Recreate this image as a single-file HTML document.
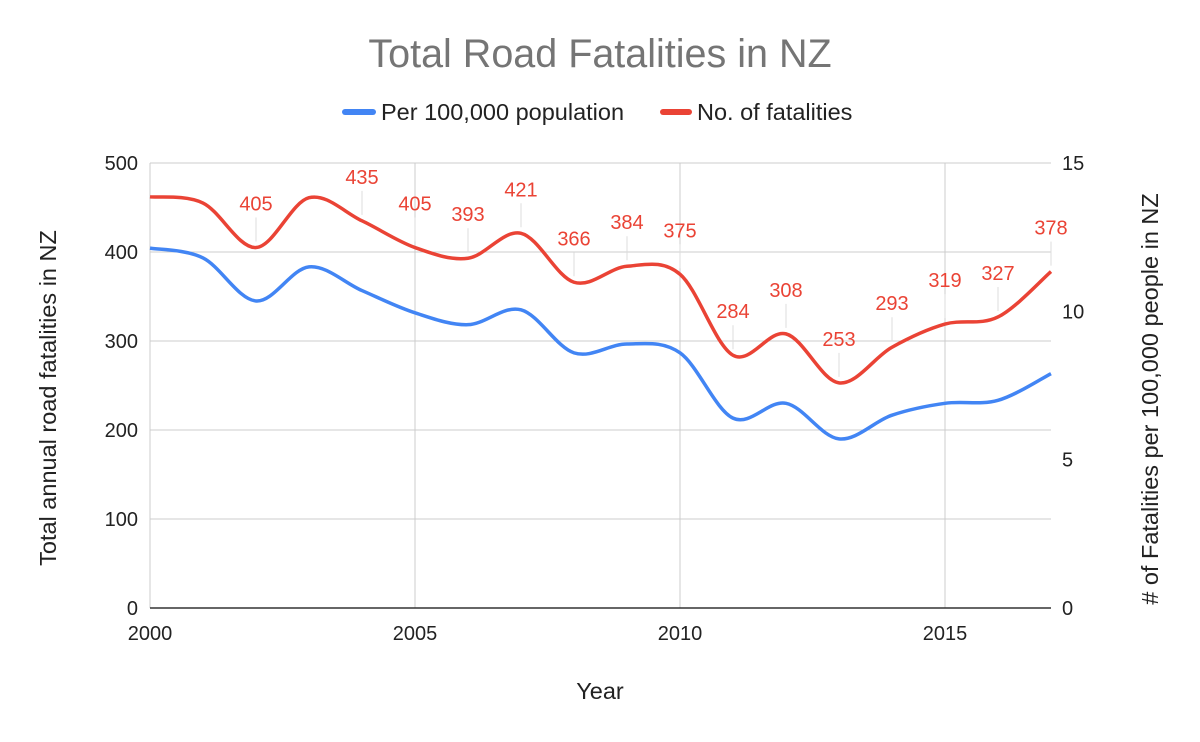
<!DOCTYPE html>
<html><head><meta charset="utf-8"><style>
body{margin:0;background:#fff;font-family:"Liberation Sans",Arial,sans-serif}
svg{display:block}
</style></head><body>
<svg id="chart" width="1200" height="742" viewBox="0 0 1200 742">
<rect width="1200" height="742" fill="#fff"/>
<text x="600" y="67" text-anchor="middle" font-size="39.5" fill="#757575">Total Road Fatalities in NZ</text>
<g>
<g><line x1="345" y1="112" x2="373" y2="112" stroke="#4285f4" stroke-width="6" stroke-linecap="round"/><text x="381" y="120" font-size="23.5" fill="#222">Per 100,000 population</text></g>
<g><line x1="663" y1="112" x2="689" y2="112" stroke="#ea4335" stroke-width="6" stroke-linecap="round"/><text x="697" y="120" font-size="23.5" fill="#222">No. of fatalities</text></g>
</g>
<g id="grid"></g><g id="axes"></g><g id="series"></g><g id="labels"></g>
<text x="600" y="699" text-anchor="middle" font-size="23.5" fill="#222">Year</text>
<text transform="translate(56,398) rotate(-90)" text-anchor="middle" font-size="23.5" fill="#222">Total annual road fatalities in NZ</text>
<text transform="translate(1158,399) rotate(-90)" text-anchor="middle" font-size="23.5" fill="#222"># of Fatalities per 100,000 people in NZ</text>
</svg>
<script>
const years=[2000,2001,2002,2003,2004,2005,2006,2007,2008,2009,2010,2011,2012,2013,2014,2015,2016,2017];
const fatalities=[462,455,405,461,435,405,393,421,366,384,375,284,308,253,293,319,327,378];
const per100k=[12.13,11.8,10.35,11.5,10.7,9.95,9.55,10.05,8.6,8.9,8.6,6.4,6.9,5.7,6.5,6.9,7.0,7.9];
const labelShown=[false,false,true,false,true,true,true,true,true,true,true,true,true,true,true,true,true,true];
const xTicks=[2000,2005,2010,2015];
const leftTicks=[0,100,200,300,400,500];
const rightTicks=[0,5,10,15];
const NS="http://www.w3.org/2000/svg";
const X0=150,X1=1051,Y0=608,Y1=163;
const x=v=>X0+(v-2000)/(2017-2000)*(X1-X0);
const yL=v=>Y0-v/500*(Y0-Y1);
const yR=v=>Y0-v/15*(Y0-Y1);
function mk(t,a,p){const e=document.createElementNS(NS,t);for(const k in a)e.setAttribute(k,a[k]);p.appendChild(e);return e;}
const grid=document.getElementById('grid'),axes=document.getElementById('axes'),series=document.getElementById('series'),labels=document.getElementById('labels');
leftTicks.forEach(v=>{
 if(v>0){const l=mk('line',{x1:X0,x2:X1,y1:yL(v),y2:yL(v),stroke:'#ccc','stroke-width':1},grid);
 
 }
 const t=mk('text',{x:138,y:yL(v)+7,'text-anchor':'end','font-size':20,fill:'#222'},axes);t.textContent=v;
 
 
});
rightTicks.forEach(v=>{
 const t=mk('text',{x:1062,y:yR(v)+7,'font-size':20,fill:'#222'},axes);t.textContent=v;
 
 
});
xTicks.forEach(v=>{
 const l=mk('line',{x1:x(v),x2:x(v),y1:Y1,y2:Y0,stroke:'#ccc','stroke-width':1},grid);
 
 
 const t=mk('text',{x:x(v),y:Y0+32,'text-anchor':'middle','font-size':20,fill:'#222'},axes);t.textContent=v;
 
 
});
const ax=mk('line',{x1:X0,x2:X1,y1:Y0,y2:Y0,stroke:'#333','stroke-width':1.5},axes);


function smooth(pts){
 let d=`M${pts[0][0]},${pts[0][1]}`;
 for(let i=0;i<pts.length-1;i++){
  const p0=pts[Math.max(0,i-1)],p1=pts[i],p2=pts[i+1],p3=pts[Math.min(pts.length-1,i+2)];
  const k=1/6;
  d+=` C${p1[0]+(p2[0]-p0[0])*k},${p1[1]+(p2[1]-p0[1])*k} ${p2[0]-(p3[0]-p1[0])*k},${p2[1]-(p3[1]-p1[1])*k} ${p2[0]},${p2[1]}`;
 }
 return d;
}
const bp=mk('path',{d:smooth(years.map((yr,i)=>[x(yr),yR(per100k[i])])),fill:'none',stroke:'#4285f4','stroke-width':3.5},series);


const rp=mk('path',{d:smooth(years.map((yr,i)=>[x(yr),yL(fatalities[i])])),fill:'none',stroke:'#ea4335','stroke-width':3.5},series);


years.forEach((yr,i)=>{
 if(!labelShown[i])return;
 const px=x(yr),py=yL(fatalities[i]);
 const ll=mk('line',{x1:px,x2:px,y1:py-30,y2:py-6,stroke:'#ddd','stroke-width':1},labels);
 
 
 const t=mk('text',{x:px,y:py-37,'text-anchor':'middle','font-size':20,fill:'#ea4335'},labels);
 t.textContent=fatalities[i];
 
 
});
</script>
</body></html>
